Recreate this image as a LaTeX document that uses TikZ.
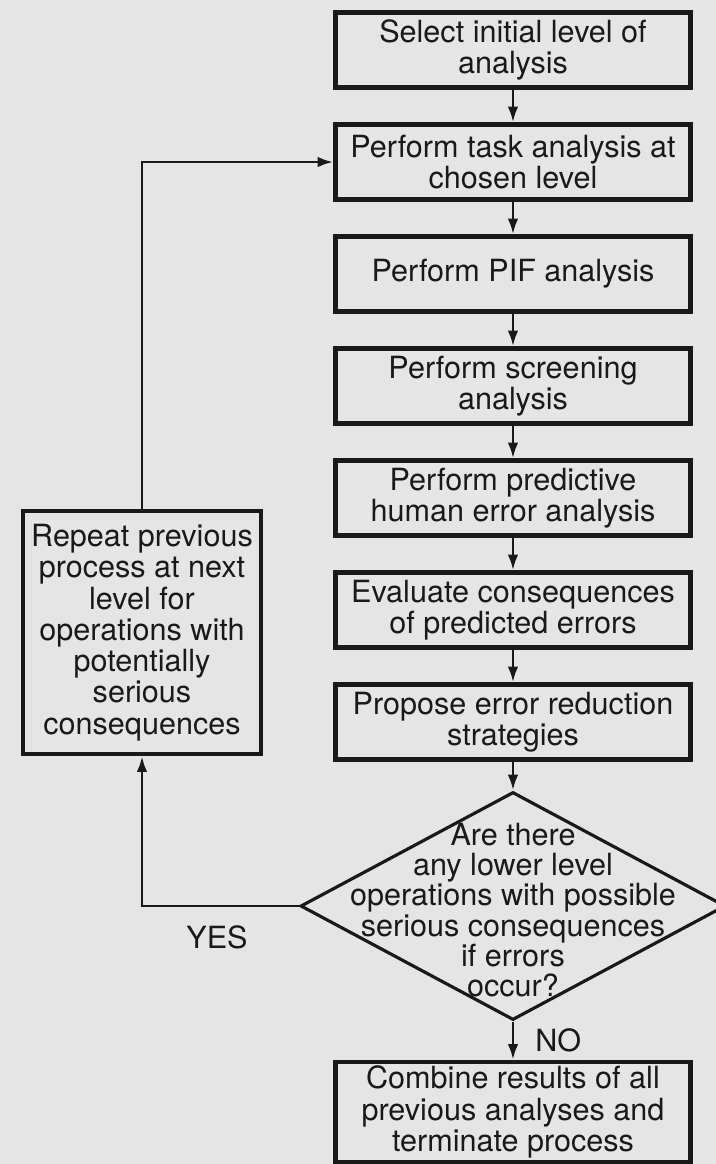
\documentclass[tikz,border=0pt]{standalone}
\usepackage{fontspec}
\setmainfont{TeX Gyre Heros}
\usetikzlibrary{shapes.geometric,arrows.meta}
\definecolor{paper}{gray}{0.9}
\definecolor{ink}{gray}{0.1}

\begin{document}
\begin{tikzpicture}[
  stepbox/.style={draw=ink, line width=2.4pt, minimum width=7.1cm, minimum height=1.5cm,
    align=center, inner sep=2pt, text=ink, font=\fontsize{17.4}{17.8}\selectfont},
  decision/.style={draw=ink, diamond, line width=1.8pt, minimum width=8.5cm,
    minimum height=4.56cm, inner sep=0pt},
  answer/.style={text=ink, font=\fontsize{17.4}{17.2}\selectfont},
  flow/.style={draw=ink, line width=1.6pt, -{Latex[length=9pt,width=6pt]}}
]
  % Page
  \fill[paper] (0,0) rectangle (14.32,-23.28);
  \useasboundingbox (0,0) rectangle (14.32,-23.28);

  % Main sequence of steps
  \node[stepbox] (select) at (10.26,-1.0) {Select initial level of\\analysis};
  \node[stepbox] (task) at (10.26,-3.24) {Perform task analysis at\\chosen level};
  \node[stepbox] (pif) at (10.26,-5.48) {Perform PIF analysis};
  \node[stepbox] (screen) at (10.26,-7.72) {Perform screening\\analysis};
  \node[stepbox] (predict) at (10.26,-9.96) {Perform predictive\\human error analysis};
  \node[stepbox] (evaluate) at (10.26,-12.2) {Evaluate consequences\\of predicted errors};
  \node[stepbox] (propose) at (10.26,-14.44) {Propose error reduction\\strategies};

  % Decision
  \node[decision] (lower) at (10.26,-18.12) {};
  \node[answer, align=center] (lowertext) at (10.26,-18.2)
    {Are there\\any lower level\\operations with possible\\serious consequences\\if errors\\occur?};

  % End step
  \node[stepbox, minimum height=2cm] (combine) at (10.26,-22.24)
    {Combine results of all\\previous analyses and\\terminate process};

  % Repeat loop
  \node[stepbox, minimum width=4.76cm, minimum height=4.86cm] (repeat) at (2.84,-12.65)
    {Repeat previous\\process at next\\level for\\operations with\\potentially\\serious\\consequences};

  % Connectors
  \draw[flow] (select) -- (task);
  \draw[flow] (task) -- (pif);
  \draw[flow] (pif) -- (screen);
  \draw[flow] (screen) -- (predict);
  \draw[flow] (predict) -- (evaluate);
  \draw[flow] (evaluate) -- (propose);
  \draw[flow] (propose) -- (lower);
  \draw[flow] (lower) -- (combine) node[answer, midway, right=0.3cm] (no) {NO};
  \draw[flow] (lower.west) -| (repeat.south);
  \draw[flow] (repeat.north) |- (task.west);
  \node[answer] (yes) at (4.34,-18.74) {YES};
\end{tikzpicture}
\end{document}
